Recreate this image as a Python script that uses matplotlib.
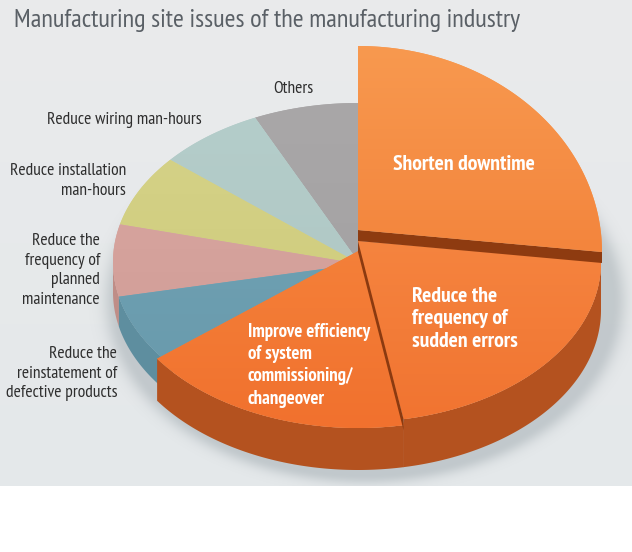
import numpy as np
import matplotlib
matplotlib.use("Agg")
import matplotlib.pyplot as plt
from matplotlib.patches import Polygon
from matplotlib.colors import to_rgb

# ---------------- data ----------------
title = "Manufacturing site issues of the manufacturing industry"
categories = [
    "Shorten downtime",
    "Reduce the frequency of sudden errors",
    "Improve efficiency of system commissioning/changeover",
    "Reduce the reinstatement of defective products",
    "Reduce the frequency of planned maintenance",
    "Reduce installation man-hours",
    "Reduce wiring man-hours",
    "Others",
]
shares = [25.0, 22.0, 18.3, 6.2, 7.3, 7.3, 7.0, 6.9]
label_lines = [
    ["Shorten downtime"],
    ["Reduce the", "frequency of", "sudden errors"],
    ["Improve efficiency", "of system", "commissioning/", "changeover"],
    ["Reduce the", "reinstatement of", "defective products"],
    ["Reduce the", "frequency of", "planned", "maintenance"],
    ["Reduce installation", "man-hours"],
    ["Reduce wiring man-hours"],
    ["Others"],
]

# ---------------- style / layout ----------------
W, H = 632, 552
FONT = ["PT Sans Narrow", "DejaVu Sans"]
BG_BOTTOM = 486

top_cols = [("#F8994F", "#F3853D"), ("#F5843F", "#F17431"), ("#F48039", "#F1712E"),
            ("#6D9FB1", "#6A9BAD"), ("#D6A39D", "#D3A09A"), ("#D4D186", "#D1CE80"),
            ("#B4CDCA", "#B1C9C6"), ("#A9A7A8", "#A5A3A4")]
side_cols = ["#8E3B10", "#B4521F", "#B4521F", "#5E8E9F", "#BF8D87", "#BDBA74", "#9FB6B3", "#949293"]

# geometry of each slice: ellipse centre, radii, apex, depth of visible side wall
geo = [
    dict(c=(358, 252), rx=244, ry=206, apex=(358, 230), depth=0),
    dict(c=(358, 262), rx=243, ry=160, apex=(358, 241), depth=48),
    dict(c=(358, 266), rx=245, ry=162, apex=(364, 248), depth=42),
    dict(c=(358, 262), rx=245, ry=159, apex=(360, 264), depth=30, extend_start=6),
    dict(c=(358, 262), rx=245, ry=159, apex=(360, 264), depth=30),
    dict(c=(358, 262), rx=245, ry=159, apex=(360, 264), depth=30),
    dict(c=(358, 262), rx=245, ry=159, apex=(360, 264), depth=30),
    dict(c=(358, 262), rx=245, ry=159, apex=(360, 264), depth=30),
]
step_band = 11   # height difference shown on raised slices' radial edge

fig = plt.figure(figsize=(W / 100, H / 100), dpi=100)
ax = fig.add_axes([0, 0, 1, 1])
ax.set_xlim(0, W)
ax.set_ylim(H, 0)
ax.axis("off")

# background
yy, xx = np.mgrid[0:H, 0:W] + 0.5
bg = np.ones((H, W, 3))
c0, c1 = np.array(to_rgb("#EAEBEC")), np.array(to_rgb("#E4E8EA"))
f = (yy / BG_BOTTOM)[..., None]
grad = c0 * (1 - f) + c1 * f
bg[yy < BG_BOTTOM] = grad[yy < BG_BOTTOM]
ax.imshow(bg, extent=(0, W, H, 0), zorder=0, interpolation="bilinear")

# soft drop shadow around pie
r = np.sqrt(((xx - 365) / 248) ** 2 + ((yy - 301) / 174) ** 2)
dist = (r - 1) * 200
alpha = np.where(r < 1, 0.34, 0.34 * np.exp(-(dist / 11.0) ** 2))
alpha[yy >= BG_BOTTOM] = 0
sh = np.zeros((H, W, 4))
sh[..., :3] = to_rgb("#7E8B92")
sh[..., 3] = alpha
ax.imshow(sh, extent=(0, W, H, 0), zorder=1, interpolation="bilinear")


def arc(g, a0, a1, n=160, dy=0.0):
    t = np.radians(np.linspace(a0, a1, n))
    cx, cy = g["c"]
    return np.column_stack([cx + g["rx"] * np.cos(t), cy - g["ry"] * np.sin(t) + dy])


def grad_poly(pts, ctop, cbot, z):
    poly = Polygon(pts, closed=True, facecolor=ctop, edgecolor="none", zorder=z)
    ax.add_patch(poly)
    y0, y1 = pts[:, 1].min(), pts[:, 1].max()
    a, b = np.array(to_rgb(ctop)), np.array(to_rgb(cbot))
    ff = np.linspace(0, 1, 64)[:, None, None]
    img = a * (1 - ff) + b * ff
    img = np.repeat(img, 2, axis=1)
    im = ax.imshow(img, extent=(pts[:, 0].min(), pts[:, 0].max(), y1, y0),
                   zorder=z + 0.01, interpolation="bilinear", aspect="auto")
    im.set_clip_path(poly)
    ax.set_xlim(0, W)
    ax.set_ylim(H, 0)


vals = np.array(shares, dtype=float)
sweep = vals / vals.sum() * 360.0
ends = 90.0 - np.cumsum(sweep)
starts = ends + sweep

# drawing order: back small slices first, then raised orange ones
order = [7, 6, 5, 4, 3, 2, 1, 0]
z = 2
for i in order:
    g = geo[i]
    s, e = starts[i] + g.get("extend_start", 0), ends[i]
    # front side wall
    if g["depth"] > 0:
        s2 = ((s + 180) % 360) - 180
        e2 = s2 - (s - e)
        hi, lo = min(s2, 0), max(e2, -180)
        if hi > lo:
            top = arc(g, hi, lo)
            bot = arc(g, lo, hi, dy=g["depth"])
            ax.add_patch(Polygon(np.vstack([top, bot]), closed=True,
                                 facecolor=side_cols[i], edgecolor="none", zorder=z))
    z += 1
    pts = np.vstack([[g["apex"]], arc(g, s, e)])
    grad_poly(pts, top_cols[i][0], top_cols[i][1], z)
    z += 1
    # step face on the trailing radial edge of raised slices
    if i in (0, 1):
        p_end = arc(g, e, e, n=1)[0]
        ax_, ay_ = g["apex"]
        face = np.array([[ax_, ay_], p_end, p_end + [0, step_band], [ax_, ay_ + step_band]])
        zz = z - 1.0 if i == 0 else z
        ax.add_patch(Polygon(face, closed=True, facecolor="#8B3A10" if i == 1 else side_cols[0],
                             edgecolor="none", zorder=zz))
        z += 1

renderer = fig.canvas.get_renderer()


def fit_size(text, target_w, weight):
    t = ax.text(0, 0, text, fontsize=20, family=FONT, fontweight=weight)
    w = t.get_window_extent(renderer).width
    t.remove()
    return 20.0 * target_w / w


title_fs = fit_size(title, 506, "normal")
ax.text(14, 27, title, fontsize=title_fs, family=FONT, color="#5A6066",
        ha="left", va="baseline", zorder=50)

gray_fs = fit_size(label_lines[6][0], 154, "normal")
white_fs = fit_size(label_lines[0][0], 142, "bold")
improve_fs = min(white_fs, fit_size(label_lines[2][0], 123, "bold"))

# label placement: (x anchor, alignment, first baseline, line step, colour, size, weight)
placements = {
    0: (393, "left", 170, 22.5, "white", white_fs, "bold"),
    1: (412, "left", 302, 22.5, "white", white_fs, "bold"),
    2: (248, "left", 337, 22.2, "white", improve_fs, "bold"),
    3: (117, "right", 358, 19.6, "#2E2E2E", gray_fs, "normal"),
    4: (100, "right", 245, 19.7, "#2E2E2E", gray_fs, "normal"),
    5: (126, "right", 175, 20.0, "#2E2E2E", gray_fs, "normal"),
    6: (202, "right", 124, 20.0, "#2E2E2E", gray_fs, "normal"),
    7: (293, "center", 93, 20.0, "#2E2E2E", gray_fs, "normal"),
}
for i, lines in enumerate(label_lines):
    x, ha, y0, dy, col, fs, wt = placements[i]
    for k, line in enumerate(lines):
        ax.text(x, y0 + k * dy, line, fontsize=fs, family=FONT, fontweight=wt,
                color=col, ha=ha, va="baseline", zorder=60)

fig.savefig("out.png", dpi=100)
